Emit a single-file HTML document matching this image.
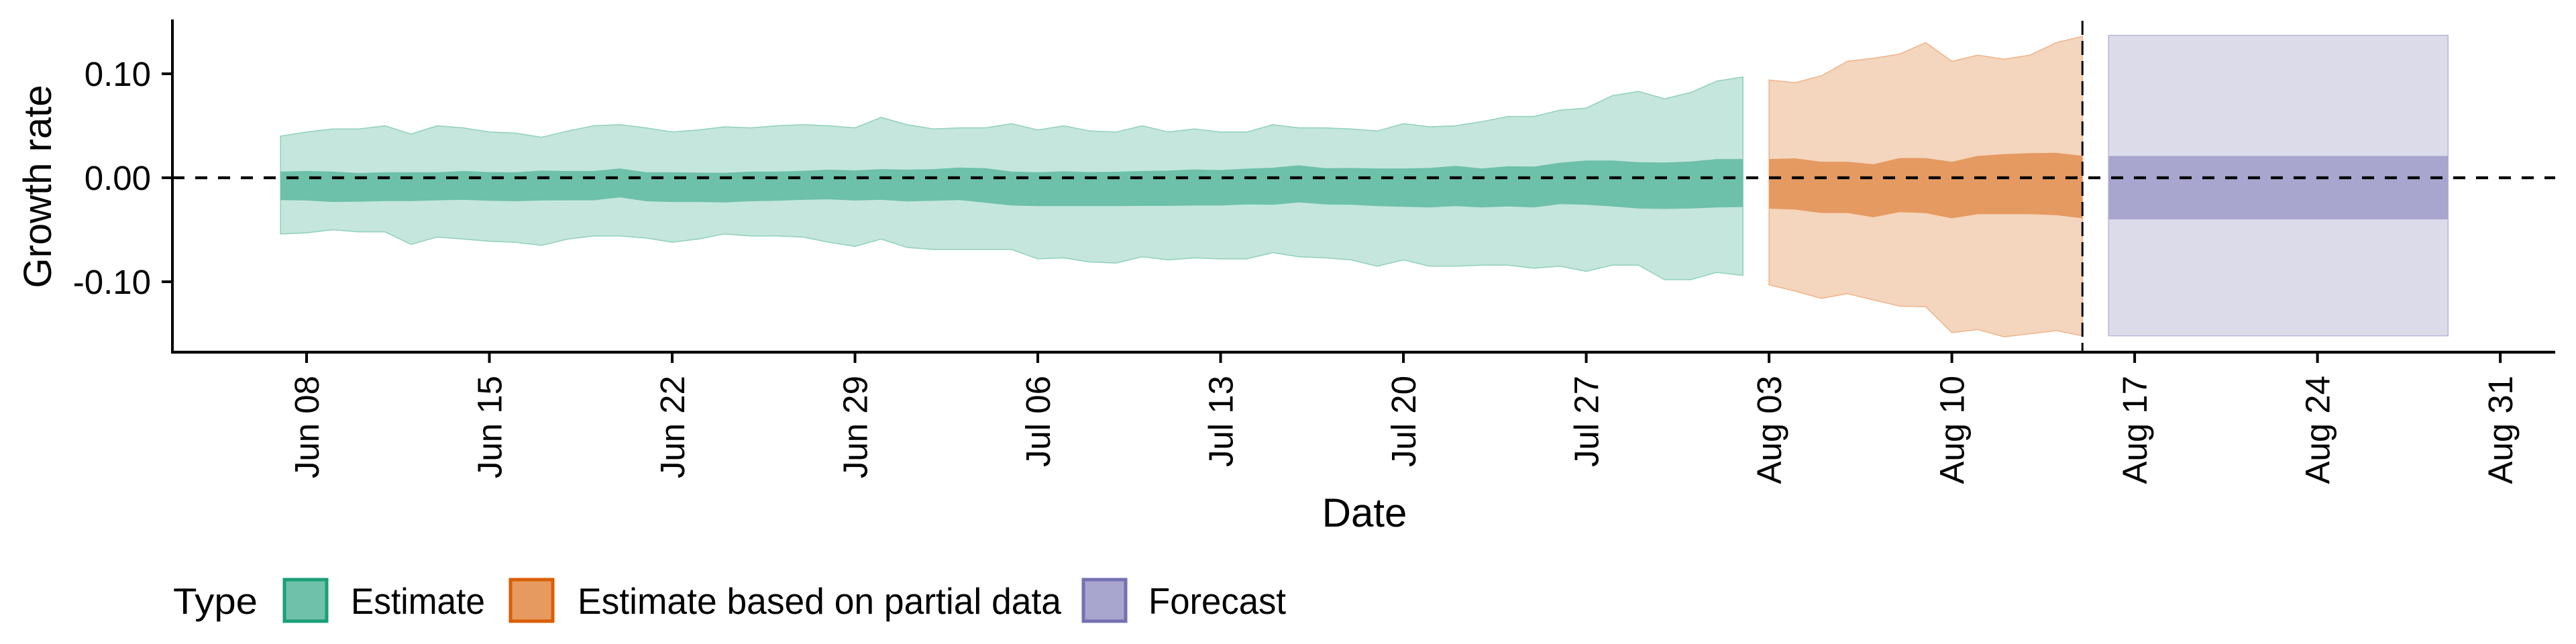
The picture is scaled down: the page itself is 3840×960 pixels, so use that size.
<!DOCTYPE html>
<html><head><meta charset="utf-8"><style>
html,body{margin:0;padding:0;background:#fff;}
svg{display:block;font-family:"Liberation Sans",Arial,sans-serif;}
</style></head><body>
<svg id="chart" width="3840" height="960" viewBox="0 0 3840 960" xmlns="http://www.w3.org/2000/svg">
<g id="bands"></g>
<g id="axes"></g>
<text x="0" y="0" transform="translate(76,278) rotate(-90)" text-anchor="middle" font-size="58">Growth rate</text>
<text x="2034" y="785" text-anchor="middle" font-size="60">Date</text>
<g>
<text x="258" y="915" font-size="55" textLength="126" lengthAdjust="spacingAndGlyphs">Type</text>
<rect x="424" y="864" width="63" height="62" fill="#6fc1a9" stroke="#1b9e77" stroke-width="5"/>
<text x="523" y="915" font-size="55" textLength="200" lengthAdjust="spacingAndGlyphs">Estimate</text>
<rect x="761" y="864" width="63" height="62" fill="#e69a60" stroke="#d95f02" stroke-width="5"/>
<text x="861" y="915" font-size="55" textLength="721" lengthAdjust="spacingAndGlyphs">Estimate based on partial data</text>
<rect x="1615" y="864" width="63" height="62" fill="#a8a5cf" stroke="#7570b3" stroke-width="5"/>
<text x="1712" y="915" font-size="55" textLength="205" lengthAdjust="spacingAndGlyphs">Forecast</text>
</g>
</svg>
<script>
// day index 0 = Jun 07
const estStart = 0;
const estOuterUpper = [.040,.044,.047,.047,.050,.042,.050,.048,.044,.043,.039,.045,.050,.051,.048,.044,.046,.049,.048,.050,.051,.050,.048,.058,.051,.047,.048,.048,.052,.046,.050,
 .045,.044,.050,.044,.047,.044,.044,.051,.048,.048,.047,.045,.052,.049,.050,.054,.059,.059,.065,.067,.079,.083,.076,.082,.093,.097];
const estOuterLower = [-.054,-.053,-.050,-.052,-.052,-.064,-.057,-.059,-.061,-.062,-.065,-.059,-.056,-.056,-.058,-.062,-.059,-.054,-.056,-.056,-.057,-.062,-.066,-.059,-.067,-.069,-.069,-.069,-.069,-.078,-.077,
 -.081,-.082,-.076,-.079,-.077,-.078,-.078,-.072,-.076,-.077,-.079,-.085,-.079,-.085,-.085,-.084,-.084,-.087,-.085,-.090,-.084,-.084,-.098,-.098,-.091,-.094];
const estInnerUpper = [.006,.0065,.006,.0046,.0053,.0053,.0053,.0065,.0055,.0053,.0069,.0065,.0065,.009,.0053,.0053,.005,.0048,.006,.006,.0067,.0078,.0071,.0083,.0078,.0083,.0099,.0092,.006,.0053,.0062,
 .0055,.0058,.0065,.007,.008,.0074,.0088,.0097,.012,.0092,.0094,.009,.009,.0094,.0115,.009,.011,.0108,.0145,.0166,.0166,.015,.0147,.0157,.018,.018];
const estInnerLower = [-.0214,-.0219,-.0233,-.023,-.0224,-.0224,-.0217,-.0212,-.0221,-.0226,-.0219,-.0217,-.0217,-.0189,-.0226,-.0233,-.0233,-.0237,-.0226,-.0221,-.0212,-.0207,-.0219,-.0212,-.0228,-.0221,-.0214,-.0240,-.0267,-.0272,-.0272,
 -.0272,-.0272,-.027,-.027,-.0267,-.0267,-.0256,-.026,-.0237,-.0256,-.026,-.0272,-.0279,-.0286,-.0272,-.0286,-.0276,-.0286,-.0253,-.026,-.0276,-.0295,-.030,-.0295,-.0286,-.0281];
const partStart = 57;
const partOuterUpper = [.094,.0915,.098,.112,.115,.119,.130,.112,.118,.114,.118,.130,.136];
const partOuterLower = [-.103,-.109,-.116,-.1115,-.1175,-.1235,-.124,-.149,-.146,-.153,-.150,-.147,-.152];
const partInnerUpper = [.018,.0187,.0154,.0154,.013,.019,.019,.0154,.021,.0228,.0237,.024,.021];
const partInnerLower = [-.0297,-.0306,-.0339,-.0339,-.038,-.033,-.034,-.039,-.035,-.035,-.035,-.036,-.039];
const fcStart = 70, fcEnd = 83;
const fcOuter = [.137, -.152];
const fcInner = [.021, -.040];
const cutoffDay = 69;
const yTicks = [0.10, 0.00, -0.10];
const yTickLabels = ["0.10","0.00","-0.10"];
const xTickDays = [1,8,15,22,29,36,43,50,57,64,71,78,85];
const xTickLabels = ["Jun 08","Jun 15","Jun 22","Jun 29","Jul 06","Jul 13","Jul 20","Jul 27","Aug 03","Aug 10","Aug 17","Aug 24","Aug 31"];

const NS = "http://www.w3.org/2000/svg";
const xS = d => 457 + (d - 1) * 38.93;
const yS = v => 265 - v * 1550;
function mk(tag, attrs, parent) {
  const e = document.createElementNS(NS, tag);
  for (const k in attrs) e.setAttribute(k, attrs[k]);
  parent.appendChild(e);
  return e;
}
const bands = document.getElementById('bands');
const axes = document.getElementById('axes');
function ribbon(start, up, lo, fill, stroke, name) {
  let pts = [];
  up.forEach((v, i) => pts.push(xS(start + i).toFixed(1) + ',' + yS(v).toFixed(1)));
  for (let i = lo.length - 1; i >= 0; i--) pts.push(xS(start + i).toFixed(1) + ',' + yS(lo[i]).toFixed(1));
  const p = mk('polygon', {points: pts.join(' '), fill: fill, stroke: stroke, 'stroke-width': stroke === 'none' ? 0 : 1.5}, bands);
  
  
}
ribbon(estStart, estOuterUpper, estOuterLower, '#c5e6dc', '#8fd0bd', 'estimate-outer-band');
ribbon(estStart, estInnerUpper, estInnerLower, '#6dc0aa', 'none', 'estimate-inner-band');
ribbon(partStart, partOuterUpper, partOuterLower, '#f4d5bd', '#efb48a', 'partial-outer-band');
ribbon(partStart, partInnerUpper, partInnerLower, '#e59a61', 'none', 'partial-inner-band');
const fo = mk('rect', {x: xS(fcStart), y: yS(fcOuter[0]), width: xS(fcEnd) - xS(fcStart), height: yS(fcOuter[1]) - yS(fcOuter[0]), fill: '#dcdbea', stroke: '#b9b6da', 'stroke-width': 1.5}, bands);


const fi = mk('rect', {x: xS(fcStart), y: yS(fcInner[0]), width: xS(fcEnd) - xS(fcStart), height: yS(fcInner[1]) - yS(fcInner[0]), fill: '#a8a5cf'}, bands);


const zl = mk('line', {x1: 257, x2: 3809, y1: yS(0), y2: yS(0), stroke: '#000', 'stroke-width': 4.3, 'stroke-dasharray': '18 16'}, axes);


const cl = mk('line', {x1: xS(cutoffDay), x2: xS(cutoffDay), y1: 31, y2: 525, stroke: '#000', 'stroke-width': 3, 'stroke-dasharray': '21 9'}, axes);


const ya = mk('line', {x1: 257, x2: 257, y1: 29, y2: 527, stroke: '#000', 'stroke-width': 4}, axes);


const xa = mk('line', {x1: 255, x2: 3809, y1: 525, y2: 525, stroke: '#000', 'stroke-width': 4.3}, axes);


yTicks.forEach((v, i) => {
  const t = mk('line', {x1: 241, x2: 257, y1: yS(v), y2: yS(v), stroke: '#000', 'stroke-width': 4}, axes);
  
  
  const l = mk('text', {x: 225, y: yS(v) + 18, 'text-anchor': 'end', 'font-size': 51}, axes);
  l.textContent = yTickLabels[i];
  
  
});
xTickDays.forEach((d, i) => {
  const x = xS(d);
  const t = mk('line', {x1: x, x2: x, y1: 525, y2: 541, stroke: '#000', 'stroke-width': 4}, axes);
  
  
  const l = mk('text', {x: 0, y: 0, transform: 'translate(' + (x + 18) + ',560) rotate(-90)', 'text-anchor': 'end', 'font-size': 51}, axes);
  l.textContent = xTickLabels[i];
  
  
});
</script>
</body></html>
